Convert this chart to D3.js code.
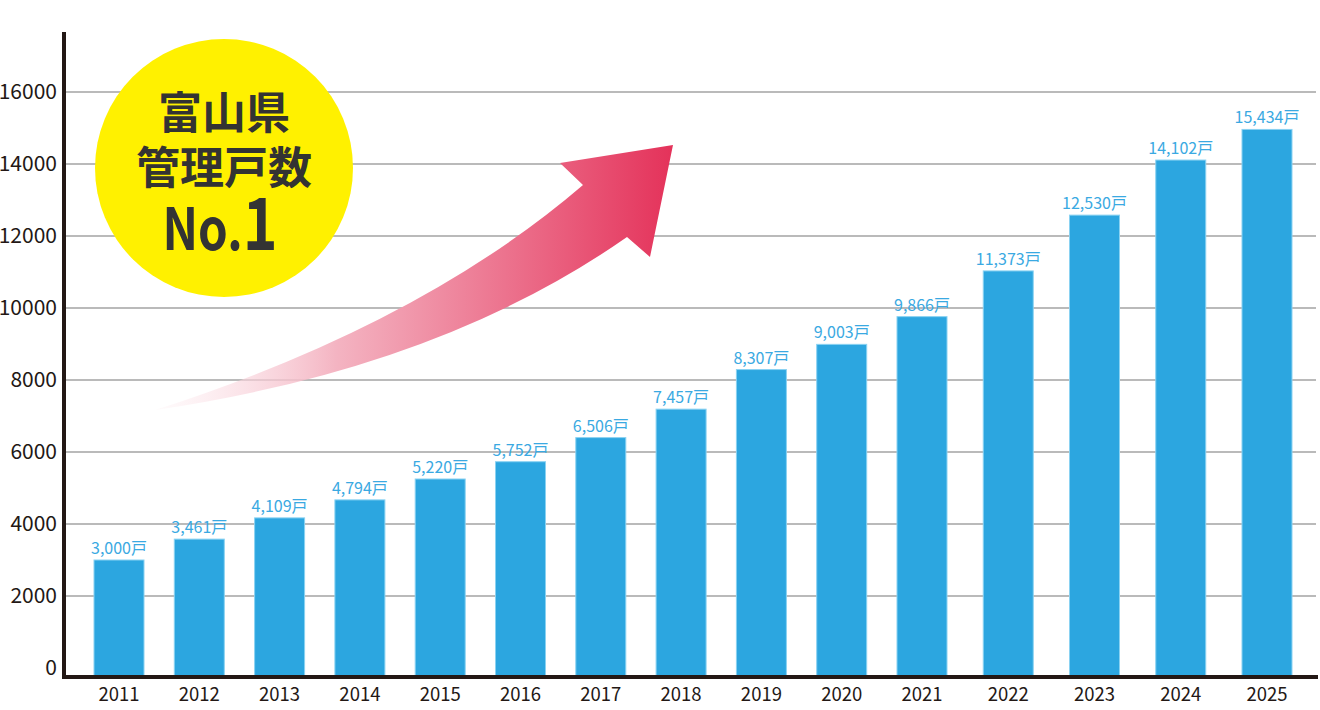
<!DOCTYPE html>
<meta charset="utf-8">
<script src="https://d3js.org/d3.v7.min.js"></script>
<style>
  body { margin: 0; background: #fff; }
  svg text { font-family: "Noto Sans CJK JP", "Noto Sans", sans-serif; }
</style>
<body>
<script>
// 管理戸数の推移
var years = [2011, 2012, 2013, 2014, 2015, 2016, 2017, 2018, 2019, 2020, 2021, 2022, 2023, 2024, 2025];
// bar heights as drawn in the picture
var barValues = [3000, 3580, 4170, 4670, 5250, 5730, 6400, 7190, 8290, 8990, 9760, 11030, 12580, 14110, 14960];
// printed values above the bars
var labelValues = [3000, 3461, 4109, 4794, 5220, 5752, 6506, 7457, 8307, 9003, 9866, 11373, 12530, 14102, 15434];
var yTicks = [0, 2000, 4000, 6000, 8000, 10000, 12000, 14000, 16000];
var badgeLines = ["富山県", "管理戸数"];

var width = 1320, height = 710;
var axisX = 64, axisY = 677, axisTop = 32, gridRight = 1316;
var barW = 50;

// spacing of the bars widens after 2021 in the original
var x = d3.scaleLinear().domain([2011, 2021, 2025]).range([119, 922, 1267]);
var y = d3.scaleLinear().domain([0, 16000]).range([668, 92]);
var fmt = d3.format(",");

var data = years.map((d, i) => ({year: d, value: barValues[i], label: labelValues[i]}));

var svg = d3.select("body").append("svg")
    .attr("width", width)
    .attr("height", height);

// gridlines
svg.append("g")
    .attr("stroke", "#a3a3a3")
    .attr("stroke-width", 1.3)
  .selectAll("line")
  .data(yTicks.filter(t => t > 0))
  .join("line")
    .attr("x1", axisX)
    .attr("x2", gridRight)
    .attr("y1", d => y(d))
    .attr("y2", d => y(d));

// y labels
svg.append("g")
    .attr("font-size", 21)
    .attr("fill", "#231815")
    .attr("text-anchor", "end")
  .selectAll("text")
  .data(yTicks)
  .join("text")
    .attr("x", axisX - 7)
    .attr("y", d => y(d))
    .attr("dy", "0.35em")
    .text(d => d);

// bars
svg.append("g")
  .selectAll("rect")
  .data(data)
  .join("rect")
    .attr("x", d => x(d.year) - barW / 2)
    .attr("y", d => y(d.value))
    .attr("width", barW)
    .attr("height", d => axisY - y(d.value))
    .attr("fill", "#2ca6e0")
    .attr("stroke", "#8ad2f2")
    .attr("stroke-width", 1);

// value labels
svg.append("g")
    .attr("font-size", 16)
    .attr("fill", "#3aa9e2")
    .attr("text-anchor", "middle")
  .selectAll("text")
  .data(data)
  .join("text")
    .attr("x", d => x(d.year))
    .attr("y", d => y(d.value) - 6)
    .text(d => fmt(d.label) + "戸");

// axes
svg.append("line")
    .attr("x1", axisX).attr("x2", axisX)
    .attr("y1", axisTop).attr("y2", axisY + 2)
    .attr("stroke", "#231815")
    .attr("stroke-width", 4);
svg.append("line")
    .attr("x1", axisX - 2).attr("x2", gridRight + 2)
    .attr("y1", axisY).attr("y2", axisY)
    .attr("stroke", "#231815")
    .attr("stroke-width", 4);

// x labels
svg.append("g")
    .attr("font-size", 18.5)
    .attr("fill", "#231815")
    .attr("text-anchor", "middle")
  .selectAll("text")
  .data(years)
  .join("text")
    .attr("x", d => x(d))
    .attr("y", 701)
    .text(d => d);

// rising arrow
var grad = svg.append("defs").append("linearGradient")
    .attr("id", "arrowGrad")
    .attr("gradientUnits", "userSpaceOnUse")
    .attr("x1", 155).attr("y1", 0)
    .attr("x2", 673).attr("y2", 0);
grad.append("stop").attr("offset", 0).attr("stop-color", "#fdf0f3").attr("stop-opacity", 0.3);
grad.append("stop").attr("offset", 0.35).attr("stop-color", "#f4b4c2");
grad.append("stop").attr("offset", 1).attr("stop-color", "#e4325a");

svg.append("path")
    .attr("fill", "url(#arrowGrad)")
    .attr("d", "M155,410 Q420,325 583,185 L560,163 L673,145 L650,257 L627,237 Q440,368 155,410 Z");

// badge
svg.append("circle")
    .attr("cx", 224)
    .attr("cy", 168)
    .attr("r", 129)
    .attr("fill", "#fff100");

var badge = svg.append("g")
    .attr("fill", "#333333")
    .attr("text-anchor", "middle")
    .attr("font-weight", 700);
badge.selectAll("text.line")
  .data(badgeLines)
  .join("text")
    .attr("class", "line")
    .attr("x", 224)
    .attr("y", (d, i) => i === 0 ? 129 : 184)
    .attr("font-size", 44)
    .text(d => d);
var no1 = badge.append("text")
    .attr("transform", "translate(220,250) scale(0.82,1)");
no1.append("tspan").attr("font-size", 58).text("No.");
no1.append("tspan").attr("font-size", 72).text("1");
</script>
</body>
